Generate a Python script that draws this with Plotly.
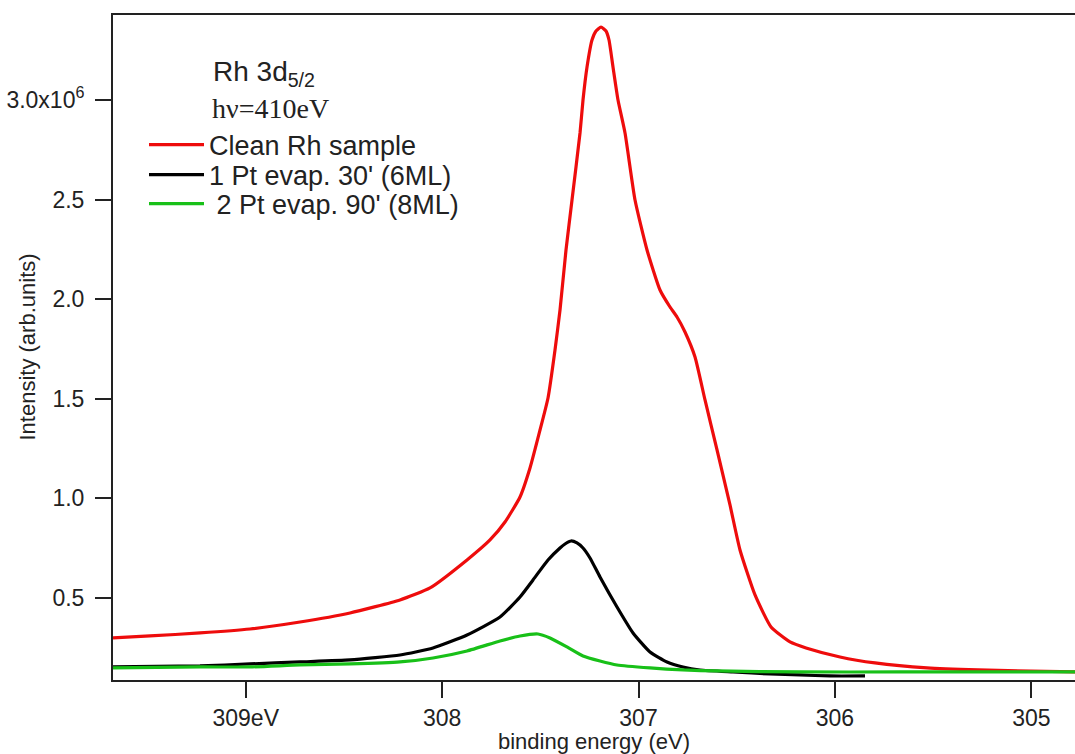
import plotly.graph_objects as go

# Binding energy (eV) and intensity (x10^6 arb. units)
clean_x = [309.6757, 309.4873, 309.2327, 308.9781, 308.7235, 308.4689, 308.2144, 308.0616,
           307.8732, 307.7561, 307.6798, 307.6034, 307.5525, 307.5015, 307.4608, 307.4252,
           307.3997, 307.3692, 307.3386, 307.2979, 307.2826, 307.2622, 307.2368, 307.2164,
           307.1910, 307.1655, 307.1502, 307.1299, 307.1044, 307.0687, 307.0178, 306.9567,
           306.8906, 306.8396, 306.8040, 306.7633, 306.7123, 306.6614, 306.6003, 306.5342,
           306.4833, 306.4068, 306.3253, 306.2286, 306.1471, 305.9740, 305.7958, 305.5311,
           305.2714, 304.7776]
clean_y = [0.2978, 0.3079, 0.3230, 0.3430, 0.3782, 0.4234, 0.4887, 0.5490,
           0.6896, 0.7901, 0.8805, 1.0060, 1.1517, 1.3425, 1.5033, 1.7443,
           1.9453, 2.2466, 2.4977, 2.8343, 3.0000, 3.1657, 3.3014, 3.3466,
           3.3667, 3.3466, 3.3014, 3.1657, 3.0000, 2.8343, 2.4977, 2.2466,
           2.0457, 1.9603, 1.9101, 1.8348, 1.7092, 1.4932, 1.2421, 0.9658,
           0.7398, 0.5138, 0.3531, 0.2777, 0.2476, 0.2024, 0.1723, 0.1472,
           0.1371, 0.1271]

pt1_x = [309.6757, 309.2327, 308.9781, 308.7235, 308.4689, 308.2144, 308.0463, 307.8732,
         307.7052, 307.6034, 307.5372, 307.4608, 307.3997, 307.3743, 307.3437, 307.3132,
         307.2826, 307.2470, 307.1961, 307.1095, 307.0280, 306.9415, 306.8549, 306.7734,
         306.6869, 306.5188, 306.3305, 306.1777, 306.0250, 305.8468]
pt1_y = [0.1522, 0.1572, 0.1673, 0.1773, 0.1873, 0.2125, 0.2476, 0.3129,
         0.4033, 0.5038, 0.5892, 0.6896, 0.7499, 0.7700, 0.7850, 0.7750,
         0.7499, 0.6996, 0.6042, 0.4535, 0.3230, 0.2275, 0.1773, 0.1522,
         0.1371, 0.1271, 0.1170, 0.1120, 0.1070, 0.1070]

pt2_x = [309.6757, 309.2327, 308.9781, 308.7235, 308.4689, 308.2144, 308.0463, 307.8732,
         307.7052, 307.6034, 307.5117, 307.4506, 307.3641, 307.2826, 307.1961, 307.1095,
         306.9415, 306.7734, 306.6003, 306.1777, 305.6685, 305.1594, 304.7776]
pt2_y = [0.1472, 0.1522, 0.1522, 0.1622, 0.1673, 0.1773, 0.1974, 0.2325,
         0.2828, 0.3079, 0.3179, 0.2978, 0.2526, 0.2074, 0.1823, 0.1622,
         0.1472, 0.1371, 0.1321, 0.1271, 0.1271, 0.1271, 0.1271]

x_ticks = [309, 308, 307, 306, 305]
x_tick_labels = ["309eV", "308", "307", "306", "305"]
y_ticks = [0.5, 1.0, 1.5, 2.0, 2.5, 3.0]
y_tick_labels = ["0.5", "1.0", "1.5", "2.0", "2.5", "3.0x10<sup>6</sup>"]

series_names = ["Clean Rh sample", "1 Pt evap. 30' (6ML)", " 2 Pt evap. 90' (8ML)"]
series_colors = ["#ee0c0c", "#000000", "#18c018"]
legend_ids = ["legend", "legend2", "legend3"]
legend_rows_px = [145, 175, 204]

PLOT_L, PLOT_R, PLOT_T, PLOT_B = 113, 1075, 15, 680
W, H = PLOT_R - PLOT_L, PLOT_B - PLOT_T

fig = go.Figure()
for xs, ys, name, col, lg in zip([clean_x, pt1_x, pt2_x], [clean_y, pt1_y, pt2_y],
                                 series_names, series_colors, legend_ids):
    fig.add_trace(go.Scatter(x=xs, y=ys, mode="lines", name=name, legend=lg,
                             line=dict(color=col, width=3.2, shape="spline", smoothing=0.5)))

sans = "Arial, Liberation Sans, sans-serif"
axis_font = dict(family=sans, size=23, color="#222")

legend_layout = {}
for lg, row in zip(legend_ids, legend_rows_px):
    legend_layout[lg] = dict(x=(144 - PLOT_L) / W, y=(PLOT_B - row) / H,
                             xanchor="left", yanchor="middle",
                             bgcolor="rgba(0,0,0,0)", font=dict(family=sans, size=27, color="#222"),
                             itemwidth=55, borderwidth=0)

fig.update_layout(
    width=1075, height=754,
    margin=dict(l=PLOT_L, r=1075 - PLOT_R, t=PLOT_T, b=754 - PLOT_B),
    paper_bgcolor="white", plot_bgcolor="white",
    font=dict(family=sans, color="#222"),
    showlegend=True,
    **legend_layout,
    xaxis=dict(range=[309.6757, 304.7776], tickvals=x_ticks, ticktext=x_tick_labels,
               ticks="outside", ticklen=16, tickwidth=1.5, tickcolor="#222",
               showline=True, linewidth=2, linecolor="#222", mirror=True,
               showgrid=False, zeroline=False, tickfont=axis_font, automargin=False,
               title=dict(text="binding energy (eV)", font=dict(family=sans, size=22, color="#222"),
                          standoff=0)),
    yaxis=dict(range=[0.0867, 3.427], tickvals=y_ticks, ticktext=y_tick_labels,
               ticks="outside", ticklen=16, tickwidth=1.5, tickcolor="#222",
               showline=True, linewidth=2, linecolor="#222", mirror=False,
               showgrid=False, zeroline=False, tickfont=axis_font, automargin=False,
               ticklabelstandoff=6),
    annotations=[
        dict(text="Intensity (arb.units)", xref="paper", yref="paper",
             x=(27 - PLOT_L) / W, y=0.5, xanchor="center", yanchor="middle", textangle=-90,
             showarrow=False, font=dict(family=sans, size=22, color="#222")),
        dict(text="Rh 3d<sub>5/2</sub>", xref="paper", yref="paper",
             x=(211 - PLOT_L) / W, y=(PLOT_B - 73) / H, xanchor="left", yanchor="middle",
             showarrow=False, font=dict(family=sans, size=28, color="#222")),
        dict(text="h\u03bd=410eV", xref="paper", yref="paper",
             x=(210 - PLOT_L) / W, y=(PLOT_B - 109) / H, xanchor="left", yanchor="middle",
             showarrow=False, font=dict(family="Liberation Serif, Times New Roman, serif", size=28,
                                        color="#222")),
    ],
)

fig.write_html("out.html")
